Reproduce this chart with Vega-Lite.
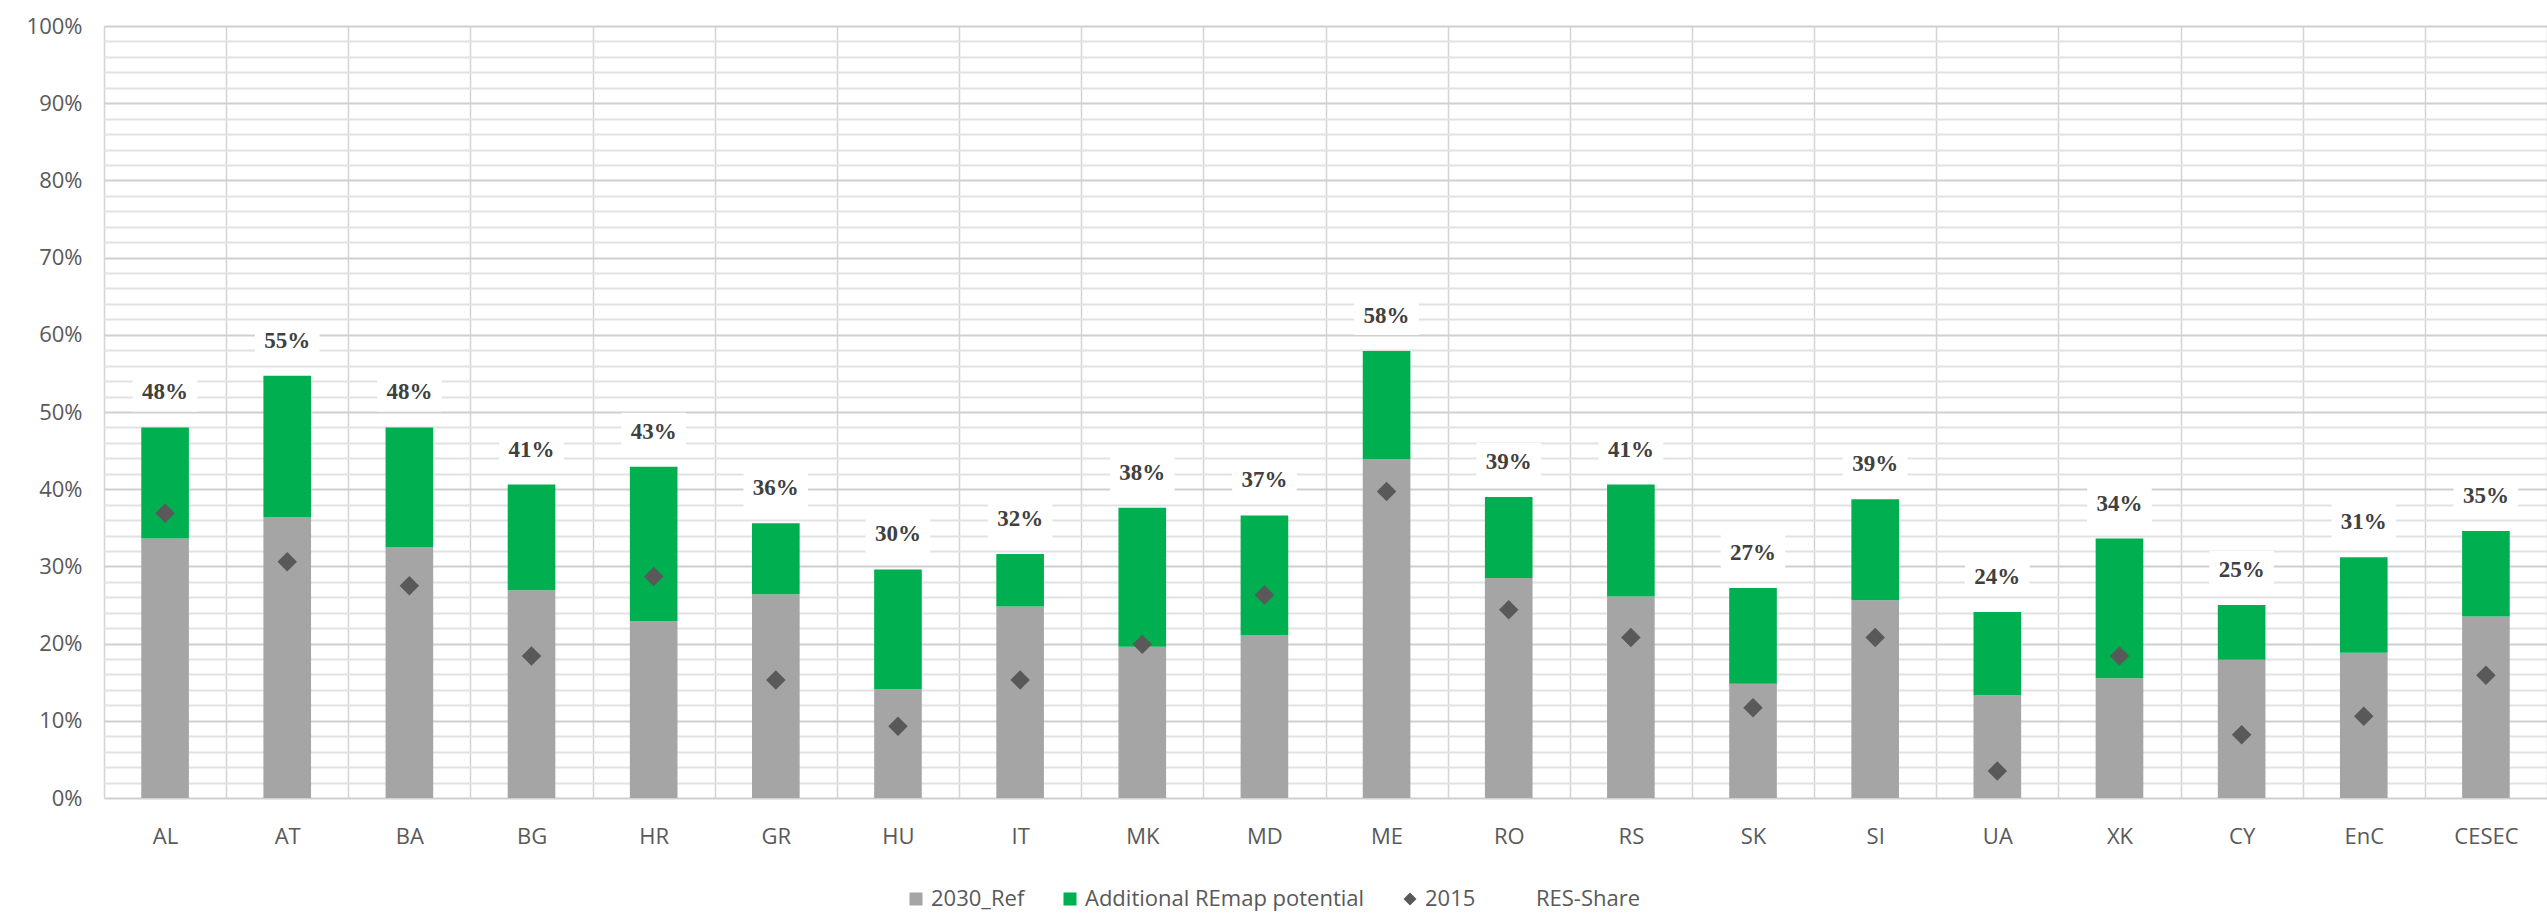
{
  "$schema": "https://vega.github.io/schema/vega-lite/v6.json",
  "width": 2443,
  "height": 772,
  "autosize": {"type": "none"},
  "padding": {"left": 104, "top": 26, "right": 0, "bottom": 118},
  "background": "white",
  "config": {"view": {"stroke": null}, "font": "Open Sans"},
  "data": {
    "values": [
      {"country": "AL", "ref": 0.336, "add": 0.144, "s2015": 0.369, "share": 0.480},
      {"country": "AT", "ref": 0.364, "add": 0.183, "s2015": 0.306, "share": 0.547},
      {"country": "BA", "ref": 0.325, "add": 0.155, "s2015": 0.275, "share": 0.480},
      {"country": "BG", "ref": 0.269, "add": 0.137, "s2015": 0.184, "share": 0.406},
      {"country": "HR", "ref": 0.229, "add": 0.200, "s2015": 0.287, "share": 0.429},
      {"country": "GR", "ref": 0.264, "add": 0.092, "s2015": 0.153, "share": 0.356},
      {"country": "HU", "ref": 0.141, "add": 0.155, "s2015": 0.093, "share": 0.296},
      {"country": "IT", "ref": 0.248, "add": 0.068, "s2015": 0.153, "share": 0.316},
      {"country": "MK", "ref": 0.196, "add": 0.180, "s2015": 0.199, "share": 0.376},
      {"country": "MD", "ref": 0.211, "add": 0.155, "s2015": 0.263, "share": 0.366},
      {"country": "ME", "ref": 0.439, "add": 0.140, "s2015": 0.397, "share": 0.579},
      {"country": "RO", "ref": 0.285, "add": 0.105, "s2015": 0.244, "share": 0.390},
      {"country": "RS", "ref": 0.261, "add": 0.145, "s2015": 0.208, "share": 0.406},
      {"country": "SK", "ref": 0.148, "add": 0.124, "s2015": 0.117, "share": 0.272},
      {"country": "SI", "ref": 0.256, "add": 0.131, "s2015": 0.208, "share": 0.387},
      {"country": "UA", "ref": 0.133, "add": 0.108, "s2015": 0.035, "share": 0.241},
      {"country": "XK", "ref": 0.155, "add": 0.181, "s2015": 0.184, "share": 0.336},
      {"country": "CY", "ref": 0.179, "add": 0.071, "s2015": 0.082, "share": 0.250},
      {"country": "EnC", "ref": 0.188, "add": 0.124, "s2015": 0.106, "share": 0.312},
      {"country": "CESEC", "ref": 0.235, "add": 0.111, "s2015": 0.159, "share": 0.346}
    ]
  },
  "encoding": {
    "x": {
      "field": "country",
      "type": "nominal",
      "sort": null,
      "scale": {"paddingInner": 0, "paddingOuter": 0},
      "axis": {
        "title": null,
        "labelAngle": 0,
        "ticks": false,
        "tickBand": "extent",
        "grid": true,
        "gridColor": "#d4d4d4",
        "gridWidth": 1.5,
        "domain": false,
        "labelPadding": 28,
        "labelFont": "Open Sans",
        "labelFontSize": 22,
        "labelColor": "#595959"
      }
    }
  },
  "layer": [
    {
      "mark": {"type": "point", "shape": "M-1.7,-1L1.7,-1L1.7,1L-1.7,1Z", "filled": true, "color": "white", "opacity": 1, "size": 1444, "yOffset": -35, "strokeWidth": 0},
      "encoding": {
        "y": {
          "field": "share",
          "type": "quantitative",
          "scale": {"domain": [0, 1], "nice": false},
          "axis": {
            "title": null,
            "values": [0, 0.02, 0.04, 0.06, 0.08, 0.1, 0.12, 0.14, 0.16, 0.18, 0.2, 0.22, 0.24, 0.26, 0.28, 0.3, 0.32, 0.34, 0.36, 0.38, 0.4, 0.42, 0.44, 0.46, 0.48, 0.5, 0.52, 0.54, 0.56, 0.58, 0.6, 0.62, 0.64, 0.66, 0.68, 0.7, 0.72, 0.74, 0.76, 0.78, 0.8, 0.82, 0.84, 0.86, 0.88, 0.9, 0.92, 0.94, 0.96, 0.98, 1],
            "labelExpr": "round(datum.value*100) % 10 === 0 ? format(datum.value, '.0%') : ''",
            "labelOverlap": false,
            "gridColor": {"condition": {"test": "round(datum.value*100) % 10 === 0", "value": "#cfcfcf"}, "value": "#e2e2e2"},
            "gridWidth": 2,
            "domain": false,
            "ticks": false,
            "labelPadding": 22,
            "labelFont": "Open Sans",
            "labelFontSize": 22,
            "labelColor": "#595959"
          }
        }
      }
    },
    {
      "transform": [{"fold": ["ref", "add"], "as": ["series", "value"]}],
      "mark": {"type": "bar", "width": {"band": 0.39}},
      "encoding": {
        "y": {
          "field": "value",
          "type": "quantitative",
          "stack": "zero",
          "axis": {
            "title": null,
            "values": [0, 0.02, 0.04, 0.06, 0.08, 0.1, 0.12, 0.14, 0.16, 0.18, 0.2, 0.22, 0.24, 0.26, 0.28, 0.3, 0.32, 0.34, 0.36, 0.38, 0.4, 0.42, 0.44, 0.46, 0.48, 0.5, 0.52, 0.54, 0.56, 0.58, 0.6, 0.62, 0.64, 0.66, 0.68, 0.7, 0.72, 0.74, 0.76, 0.78, 0.8, 0.82, 0.84, 0.86, 0.88, 0.9, 0.92, 0.94, 0.96, 0.98, 1],
            "labelExpr": "round(datum.value*100) % 10 === 0 ? format(datum.value, '.0%') : ''",
            "labelOverlap": false,
            "gridColor": {"condition": {"test": "round(datum.value*100) % 10 === 0", "value": "#cfcfcf"}, "value": "#e2e2e2"},
            "gridWidth": 2,
            "domain": false,
            "ticks": false,
            "labelPadding": 22,
            "labelFont": "Open Sans",
            "labelFontSize": 22,
            "labelColor": "#595959"
          }
        },
        "color": {
          "field": "series",
          "type": "nominal",
          "scale": {"domain": ["ref", "add", "s2015", "share"], "range": ["#a5a5a5", "#00b050", "#595959", "#ffffff"]},
          "legend": {
            "orient": "none",
            "legendX": 801,
            "legendY": 862,
            "direction": "horizontal",
            "title": null,
            "padding": 0,
            "labelFont": "Open Sans",
            "labelFontSize": 22,
            "labelColor": "#595959",
            "labelLimit": 0,
            "symbolSize": 170,
            "symbolType": "square",
            "symbolStrokeWidth": 0,
            "columnPadding": 34,
            "labelOffset": 4,
            "labelExpr": "{'ref': '2030_Ref', 'add': 'Additional REmap potential', 's2015': '2015', 'share': 'RES-Share'}[datum.value]",
            "encode": {
              "symbols": {
                "update": {
                  "shape": {"signal": "datum.value === 's2015' ? 'diamond' : 'square'"},
                  "opacity": {"signal": "datum.value === 'share' ? 0 : 1"}
                }
              }
            }
          }
        }
      }
    },
    {
      "mark": {"type": "point", "shape": "diamond", "filled": true, "color": "#595959", "opacity": 1, "size": 380},
      "encoding": {
        "y": {
          "field": "s2015",
          "type": "quantitative",
          "axis": {
            "title": null,
            "values": [0, 0.02, 0.04, 0.06, 0.08, 0.1, 0.12, 0.14, 0.16, 0.18, 0.2, 0.22, 0.24, 0.26, 0.28, 0.3, 0.32, 0.34, 0.36, 0.38, 0.4, 0.42, 0.44, 0.46, 0.48, 0.5, 0.52, 0.54, 0.56, 0.58, 0.6, 0.62, 0.64, 0.66, 0.68, 0.7, 0.72, 0.74, 0.76, 0.78, 0.8, 0.82, 0.84, 0.86, 0.88, 0.9, 0.92, 0.94, 0.96, 0.98, 1],
            "labelExpr": "round(datum.value*100) % 10 === 0 ? format(datum.value, '.0%') : ''",
            "labelOverlap": false,
            "gridColor": {"condition": {"test": "round(datum.value*100) % 10 === 0", "value": "#cfcfcf"}, "value": "#e2e2e2"},
            "gridWidth": 2,
            "domain": false,
            "ticks": false,
            "labelPadding": 22,
            "labelFont": "Open Sans",
            "labelFontSize": 22,
            "labelColor": "#595959"
          }
        }
      }
    },
    {
      "mark": {"type": "text", "font": "Liberation Serif", "fontWeight": "bold", "fontSize": 23, "color": "#404040", "baseline": "middle", "yOffset": -35},
      "encoding": {
        "y": {
          "field": "share",
          "type": "quantitative",
          "axis": {
            "title": null,
            "values": [0, 0.02, 0.04, 0.06, 0.08, 0.1, 0.12, 0.14, 0.16, 0.18, 0.2, 0.22, 0.24, 0.26, 0.28, 0.3, 0.32, 0.34, 0.36, 0.38, 0.4, 0.42, 0.44, 0.46, 0.48, 0.5, 0.52, 0.54, 0.56, 0.58, 0.6, 0.62, 0.64, 0.66, 0.68, 0.7, 0.72, 0.74, 0.76, 0.78, 0.8, 0.82, 0.84, 0.86, 0.88, 0.9, 0.92, 0.94, 0.96, 0.98, 1],
            "labelExpr": "round(datum.value*100) % 10 === 0 ? format(datum.value, '.0%') : ''",
            "labelOverlap": false,
            "gridColor": {"condition": {"test": "round(datum.value*100) % 10 === 0", "value": "#cfcfcf"}, "value": "#e2e2e2"},
            "gridWidth": 2,
            "domain": false,
            "ticks": false,
            "labelPadding": 22,
            "labelFont": "Open Sans",
            "labelFontSize": 22,
            "labelColor": "#595959"
          }
        },
        "text": {"field": "share", "type": "quantitative", "format": ".0%"}
      }
    }
  ]
}
